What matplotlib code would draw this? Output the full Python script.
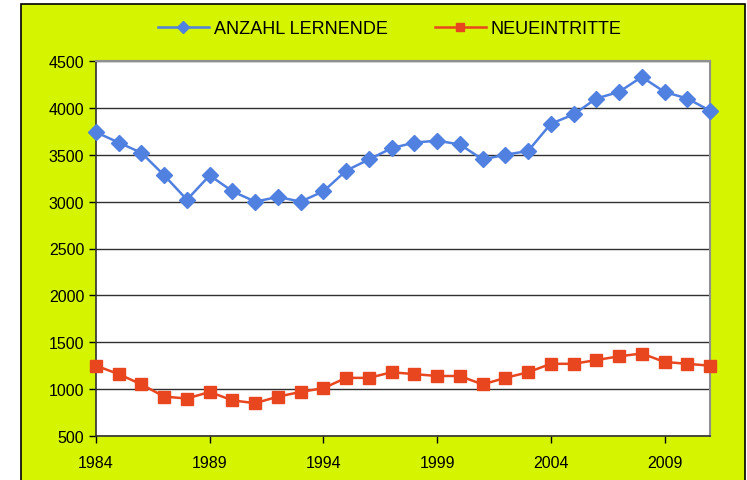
import matplotlib.pyplot as plt
from matplotlib.patches import Rectangle

years = list(range(1984, 2012))
lernende = [3740, 3630, 3520, 3280, 3020, 3280, 3110, 3000, 3050, 3000,
            3110, 3330, 3450, 3570, 3630, 3650, 3610, 3450, 3500, 3540,
            3830, 3930, 4100, 4170, 4330, 4170, 4100, 3970]
neueintritte = [1250, 1160, 1050, 920, 900, 970, 880, 850, 920, 970,
                1010, 1120, 1120, 1180, 1160, 1140, 1140, 1050, 1120, 1180,
                1270, 1270, 1310, 1350, 1380, 1290, 1270, 1250]
series_names = ["ANZAHL LERNENDE", "NEUEINTRITTE"]
xticks = [1984, 1989, 1994, 1999, 2004, 2009]
yticks = [500, 1000, 1500, 2000, 2500, 3000, 3500, 4000, 4500]

plt.rcParams['font.family'] = ['Liberation Sans', 'DejaVu Sans']

fig = plt.figure(figsize=(7.47, 4.81), dpi=100)
fig.patch.set_facecolor('white')
# yellow chart area with black frame
bg = Rectangle((21 / 747, -0.01), (745 - 21) / 747, 1 - 5 / 481 + 0.01,
               transform=fig.transFigure, facecolor='#d4f400',
               edgecolor='black', linewidth=1.2, zorder=-5)
fig.patches.append(bg)

ax = fig.add_axes([96 / 747, 1 - 437 / 481, (710 - 96) / 747, (437 - 62) / 481])
ax.set_zorder(2)
ax.set_facecolor('white')

ax.plot(years, lernende, color='#5080e0', lw=1.8, marker='D', ms=8,
        label=series_names[0], clip_on=False, zorder=3)
ax.plot(years, neueintritte, color='#e8461e', lw=1.8, marker='s', ms=8,
        label=series_names[1], clip_on=False, zorder=3)

ax.set_xlim(1984, 2011)
ax.set_ylim(500, 4500)
ax.set_xticks(xticks)
ax.set_yticks(yticks)
ax.yaxis.grid(True, color='#303030', lw=1)
ax.set_axisbelow(True)
ax.tick_params(labelsize=11.5, length=5, width=1, colors='black')
ax.tick_params(axis='x', pad=9)

for s in ['top', 'right']:
    ax.spines[s].set_color('#909090')
    ax.spines[s].set_linewidth(1.5)
for s in ['left', 'bottom']:
    ax.spines[s].set_color('#303030')
    ax.spines[s].set_linewidth(1.2)

fig.legend(loc='center', bbox_to_anchor=(390 / 747, 1 - 30 / 481), ncol=2,
           frameon=False, fontsize=13, columnspacing=2.6, handlelength=2.8,
           handletextpad=0.3, markerscale=0.8)

fig.savefig('out.png', dpi=100, facecolor=fig.get_facecolor())
